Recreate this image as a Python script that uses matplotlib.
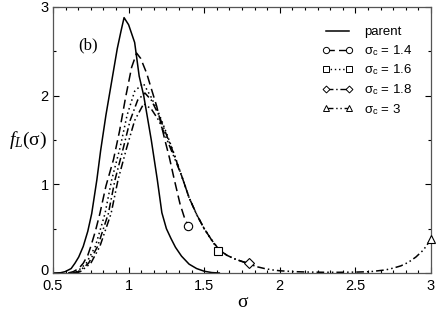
import matplotlib
matplotlib.use("Agg")
import matplotlib.pyplot as plt
from matplotlib.lines import Line2D
from matplotlib.transforms import ScaledTranslation
from matplotlib.ticker import MultipleLocator, AutoMinorLocator, FuncFormatter

# --- values ---
parent_x = [0.50, 0.55, 0.58, 0.62, 0.645, 0.67, 0.70, 0.73, 0.756, 0.79, 0.815, 0.85,
            0.888, 0.925, 0.95, 0.97, 1.00, 1.04, 1.07, 1.10, 1.15, 1.19, 1.22, 1.25,
            1.28, 1.31, 1.35, 1.40, 1.45, 1.50, 1.55, 1.60]
parent_y = [0.0, 0.003, 0.015, 0.05, 0.11, 0.18, 0.30, 0.47, 0.67, 1.05, 1.38, 1.78,
            2.16, 2.53, 2.73, 2.88, 2.80, 2.60, 2.22, 2.00, 1.50, 1.05, 0.68, 0.50,
            0.39, 0.29, 0.19, 0.10, 0.05, 0.02, 0.005, 0.0]

s14_x = [0.60, 0.634, 0.67, 0.70, 0.73, 0.75, 0.78, 0.81, 0.85, 0.90, 0.94, 0.98, 1.02,
         1.053, 1.08, 1.12, 1.15, 1.186, 1.24, 1.27, 1.30, 1.34, 1.37, 1.395]
s14_y = [0.0, 0.015, 0.05, 0.11, 0.20, 0.30, 0.47, 0.67, 0.98, 1.28, 1.60, 1.98, 2.32,
         2.48, 2.42, 2.25, 2.08, 1.88, 1.50, 1.30, 1.07, 0.78, 0.62, 0.53]

s16_x = [0.62, 0.66, 0.72, 0.78, 0.844, 0.888, 0.943, 0.99, 1.04, 1.097, 1.15, 1.20,
         1.25, 1.30, 1.35, 1.40, 1.45, 1.50, 1.55, 1.593]
s16_y = [0.0, 0.015, 0.11, 0.30, 0.67, 1.05, 1.41, 1.78, 2.05, 2.14, 1.98, 1.80,
         1.58, 1.35, 1.10, 0.85, 0.66, 0.50, 0.37, 0.25]

s18_x = [0.63, 0.67, 0.735, 0.795, 0.866, 0.91, 0.965, 1.01, 1.06, 1.108, 1.15, 1.20,
         1.25, 1.30, 1.35, 1.40, 1.45, 1.50, 1.55, 1.60, 1.65, 1.70, 1.75, 1.796]
s18_y = [0.0, 0.015, 0.11, 0.30, 0.67, 1.05, 1.41, 1.72, 1.95, 2.03, 1.95, 1.78,
         1.56, 1.34, 1.10, 0.85, 0.66, 0.50, 0.37, 0.26, 0.20, 0.16, 0.13, 0.11]

s3_x = [0.64, 0.68, 0.75, 0.81, 0.884, 0.93, 0.987, 1.04, 1.10, 1.15, 1.20, 1.25,
        1.30, 1.35, 1.40, 1.45, 1.50, 1.55, 1.60, 1.65, 1.70, 1.75, 1.80, 1.85,
        1.90, 1.95, 2.0, 2.1, 2.2, 2.3, 2.4, 2.5, 2.6, 2.65, 2.7, 2.75, 2.8, 2.85,
        2.9, 2.95, 3.0]
s3_y = [0.0, 0.015, 0.11, 0.30, 0.67, 1.05, 1.41, 1.72, 1.91, 1.85, 1.72, 1.52,
        1.31, 1.10, 0.85, 0.66, 0.50, 0.37, 0.26, 0.20, 0.16, 0.13, 0.10, 0.07,
        0.05, 0.035, 0.025, 0.015, 0.01, 0.008, 0.008, 0.01, 0.015, 0.025, 0.035,
        0.055, 0.08, 0.12, 0.18, 0.26, 0.38]

labels = ["parent", r"σ$_\mathrm{c}$ = 1.4", r"σ$_\mathrm{c}$ = 1.6",
          r"σ$_\mathrm{c}$ = 1.8", r"σ$_\mathrm{c}$ = 3"]

SANS = "Liberation Sans"
SERIF = "Liberation Serif"
plt.rcParams["mathtext.fontset"] = "custom"
plt.rcParams["mathtext.rm"] = SANS
plt.rcParams["mathtext.it"] = SERIF + ":italic"
plt.rcParams["font.family"] = SANS

fig = plt.figure(figsize=(4.36, 3.11), dpi=100)
ax = fig.add_axes([53 / 436, 38 / 311, 378 / 436, 266 / 311])

lw = 1.1
series = [
    (s14_x, s14_y, (0, (6, 3)), "o"),
    (s16_x, s16_y, (0, (1, 2)), "s"),
    (s18_x, s18_y, (0, (5, 2, 1, 2)), "D"),
    (s3_x, s3_y, (0, (5, 2, 1, 2, 1, 2)), "^"),
]
msize = {"o": 6, "s": 6, "D": 5, "^": 6}

ax.plot(parent_x, parent_y, color="black", lw=lw, ls="-")
handles = [Line2D([], [], color="black", lw=lw, ls="-")]
for xs, ys, ls, mk in series:
    ax.plot(xs, ys, color="black", lw=lw, ls=ls)
    ax.plot(xs[-1], ys[-1], marker=mk, ms=msize[mk], mfc="white", mec="black", mew=0.8,
            ls="none", clip_on=False, zorder=5)
    handles.append(Line2D([], [], color="black", lw=1.0, ls=ls, marker=mk,
                          ms=msize[mk] - 1.5, mfc="white", mec="black", mew=0.7))

ax.set_xlim(0.5, 3)
ax.set_ylim(0, 3)
ax.xaxis.set_major_locator(MultipleLocator(0.5))
ax.xaxis.set_minor_locator(AutoMinorLocator(6))
ax.yaxis.set_major_locator(MultipleLocator(1))
ax.yaxis.set_minor_locator(AutoMinorLocator(2))
fmt = FuncFormatter(lambda v, p: "%g" % v)
ax.xaxis.set_major_formatter(fmt)
ax.yaxis.set_major_formatter(fmt)
ax.tick_params(which="both", direction="in", top=True, right=True, width=0.8)
ax.tick_params(which="major", length=4.5, labelsize=10.5)
ax.tick_params(axis="x", which="major", pad=4)
ax.tick_params(axis="y", which="major", pad=3)
ax.tick_params(which="minor", length=2.5)
for sp in ax.spines.values():
    sp.set_linewidth(0.9)
    sp.set_color("#555555")

# nudge the "0" on the y axis up a little so it clears the "0.5" below it
fig.canvas.draw()
for tick in ax.yaxis.get_major_ticks():
    if abs(tick.get_loc()) < 1e-9:
        lab = tick.label1
        lab.set_transform(lab.get_transform() + ScaledTranslation(0, 2.5 / 72, fig.dpi_scale_trans))

ax.set_xlabel("σ", family=SERIF, fontsize=14, labelpad=1)
ax.set_ylabel(r"$f_L$(σ)", family=SERIF, fontsize=14, rotation=0, ha="center", va="center")
ax.yaxis.set_label_coords(-0.065, 0.5)
ax.text(0.665, 2.57, "(b)", family=SERIF, fontsize=12, va="center")

leg = ax.legend(handles, labels, loc="upper left", bbox_to_anchor=(0.712, 0.928),
                frameon=False, handlelength=2.3, handletextpad=0.9,
                labelspacing=0.36, borderpad=0, borderaxespad=0, numpoints=2,
                prop={"family": SANS, "size": 9.5})

fig.savefig("out.png", dpi=100)
